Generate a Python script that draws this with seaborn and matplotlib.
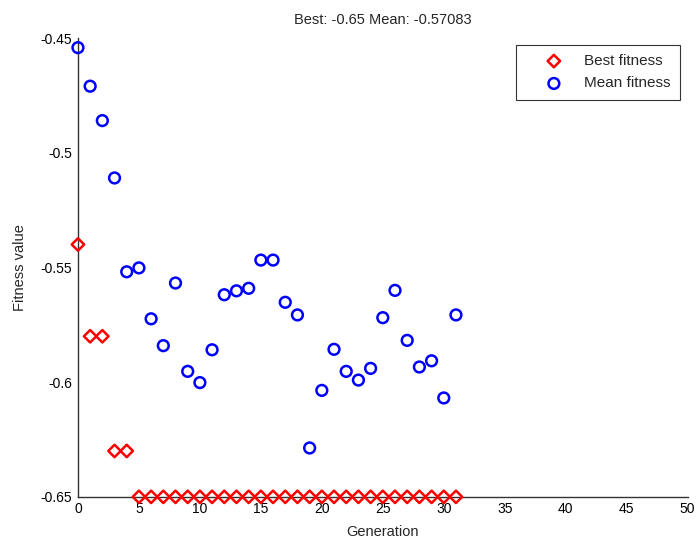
import numpy as np
import pandas as pd
import matplotlib
matplotlib.use("Agg")
import matplotlib.pyplot as plt
import seaborn as sns

# values
generation = list(range(32))
best_fitness = [-0.54, -0.58, -0.58, -0.63, -0.63] + [-0.65] * 27
mean_fitness = [-0.4542, -0.4710, -0.4860, -0.5110, -0.5519, -0.5502, -0.5724, -0.5841,
                -0.5568, -0.5953, -0.6002, -0.5859, -0.5619, -0.5602, -0.5591, -0.5468,
                -0.5468, -0.5652, -0.5707, -0.6287, -0.6036, -0.5857, -0.5953, -0.5991,
                -0.5940, -0.5719, -0.5600, -0.5818, -0.5934, -0.5907, -0.6069, -0.5707]
x_ticks = list(range(0, 51, 5))
y_ticks = [-0.65, -0.6, -0.55, -0.5, -0.45]
y_labels = ["-0.65", "-0.6", "-0.55", "-0.5", "-0.45"]

sns.set_style("white")
plt.rcParams['font.family'] = ['Liberation Sans', 'DejaVu Sans']

df = pd.DataFrame({"Generation": generation, "best": best_fitness, "mean": mean_fitness})

fig = plt.figure(figsize=(6.96, 5.43), dpi=100)
ax = fig.add_axes([0.112, 0.085, 0.876, 0.845])

sns.scatterplot(data=df, x="Generation", y="best", ax=ax, marker="D", s=40,
                facecolors="none", edgecolors="red", linewidths=1.8, label="Best fitness",
                zorder=3, clip_on=False)
sns.scatterplot(data=df, x="Generation", y="mean", ax=ax, marker="o", s=60,
                facecolors="none", edgecolors="blue", linewidths=1.8, label="Mean fitness",
                zorder=3, clip_on=False)

ax.set_xlim(0, 50)
ax.set_ylim(-0.65, -0.45)
ax.set_xticks(x_ticks)
ax.set_yticks(y_ticks)
ax.set_yticklabels(y_labels)
ax.tick_params(direction="in", length=4, labelsize=10, colors="#333333", pad=4)
for t in ax.get_xticklabels() + ax.get_yticklabels():
    t.set_color("black")
ax.spines["top"].set_visible(False)
ax.spines["right"].set_visible(False)
for s in ["left", "bottom"]:
    ax.spines[s].set_color("#333333")
    ax.spines[s].set_linewidth(1.0)

ax.set_xlabel("Generation", fontsize=10.5, labelpad=6)
ax.set_ylabel("Fitness value", fontsize=10.5, labelpad=10)
ax.set_title("Best: -0.65 Mean: -0.57083", fontsize=10.5, pad=10)

leg = ax.legend(loc="upper right", fontsize=11, frameon=True, fancybox=False,
                borderpad=0.6, handletextpad=0.1, labelspacing=0.55, handlelength=3.75,
                borderaxespad=0, bbox_to_anchor=(0.987, 0.985))
leg.get_frame().set_edgecolor("black")
leg.get_frame().set_linewidth(0.8)

fig.savefig("out.png", dpi=100)
